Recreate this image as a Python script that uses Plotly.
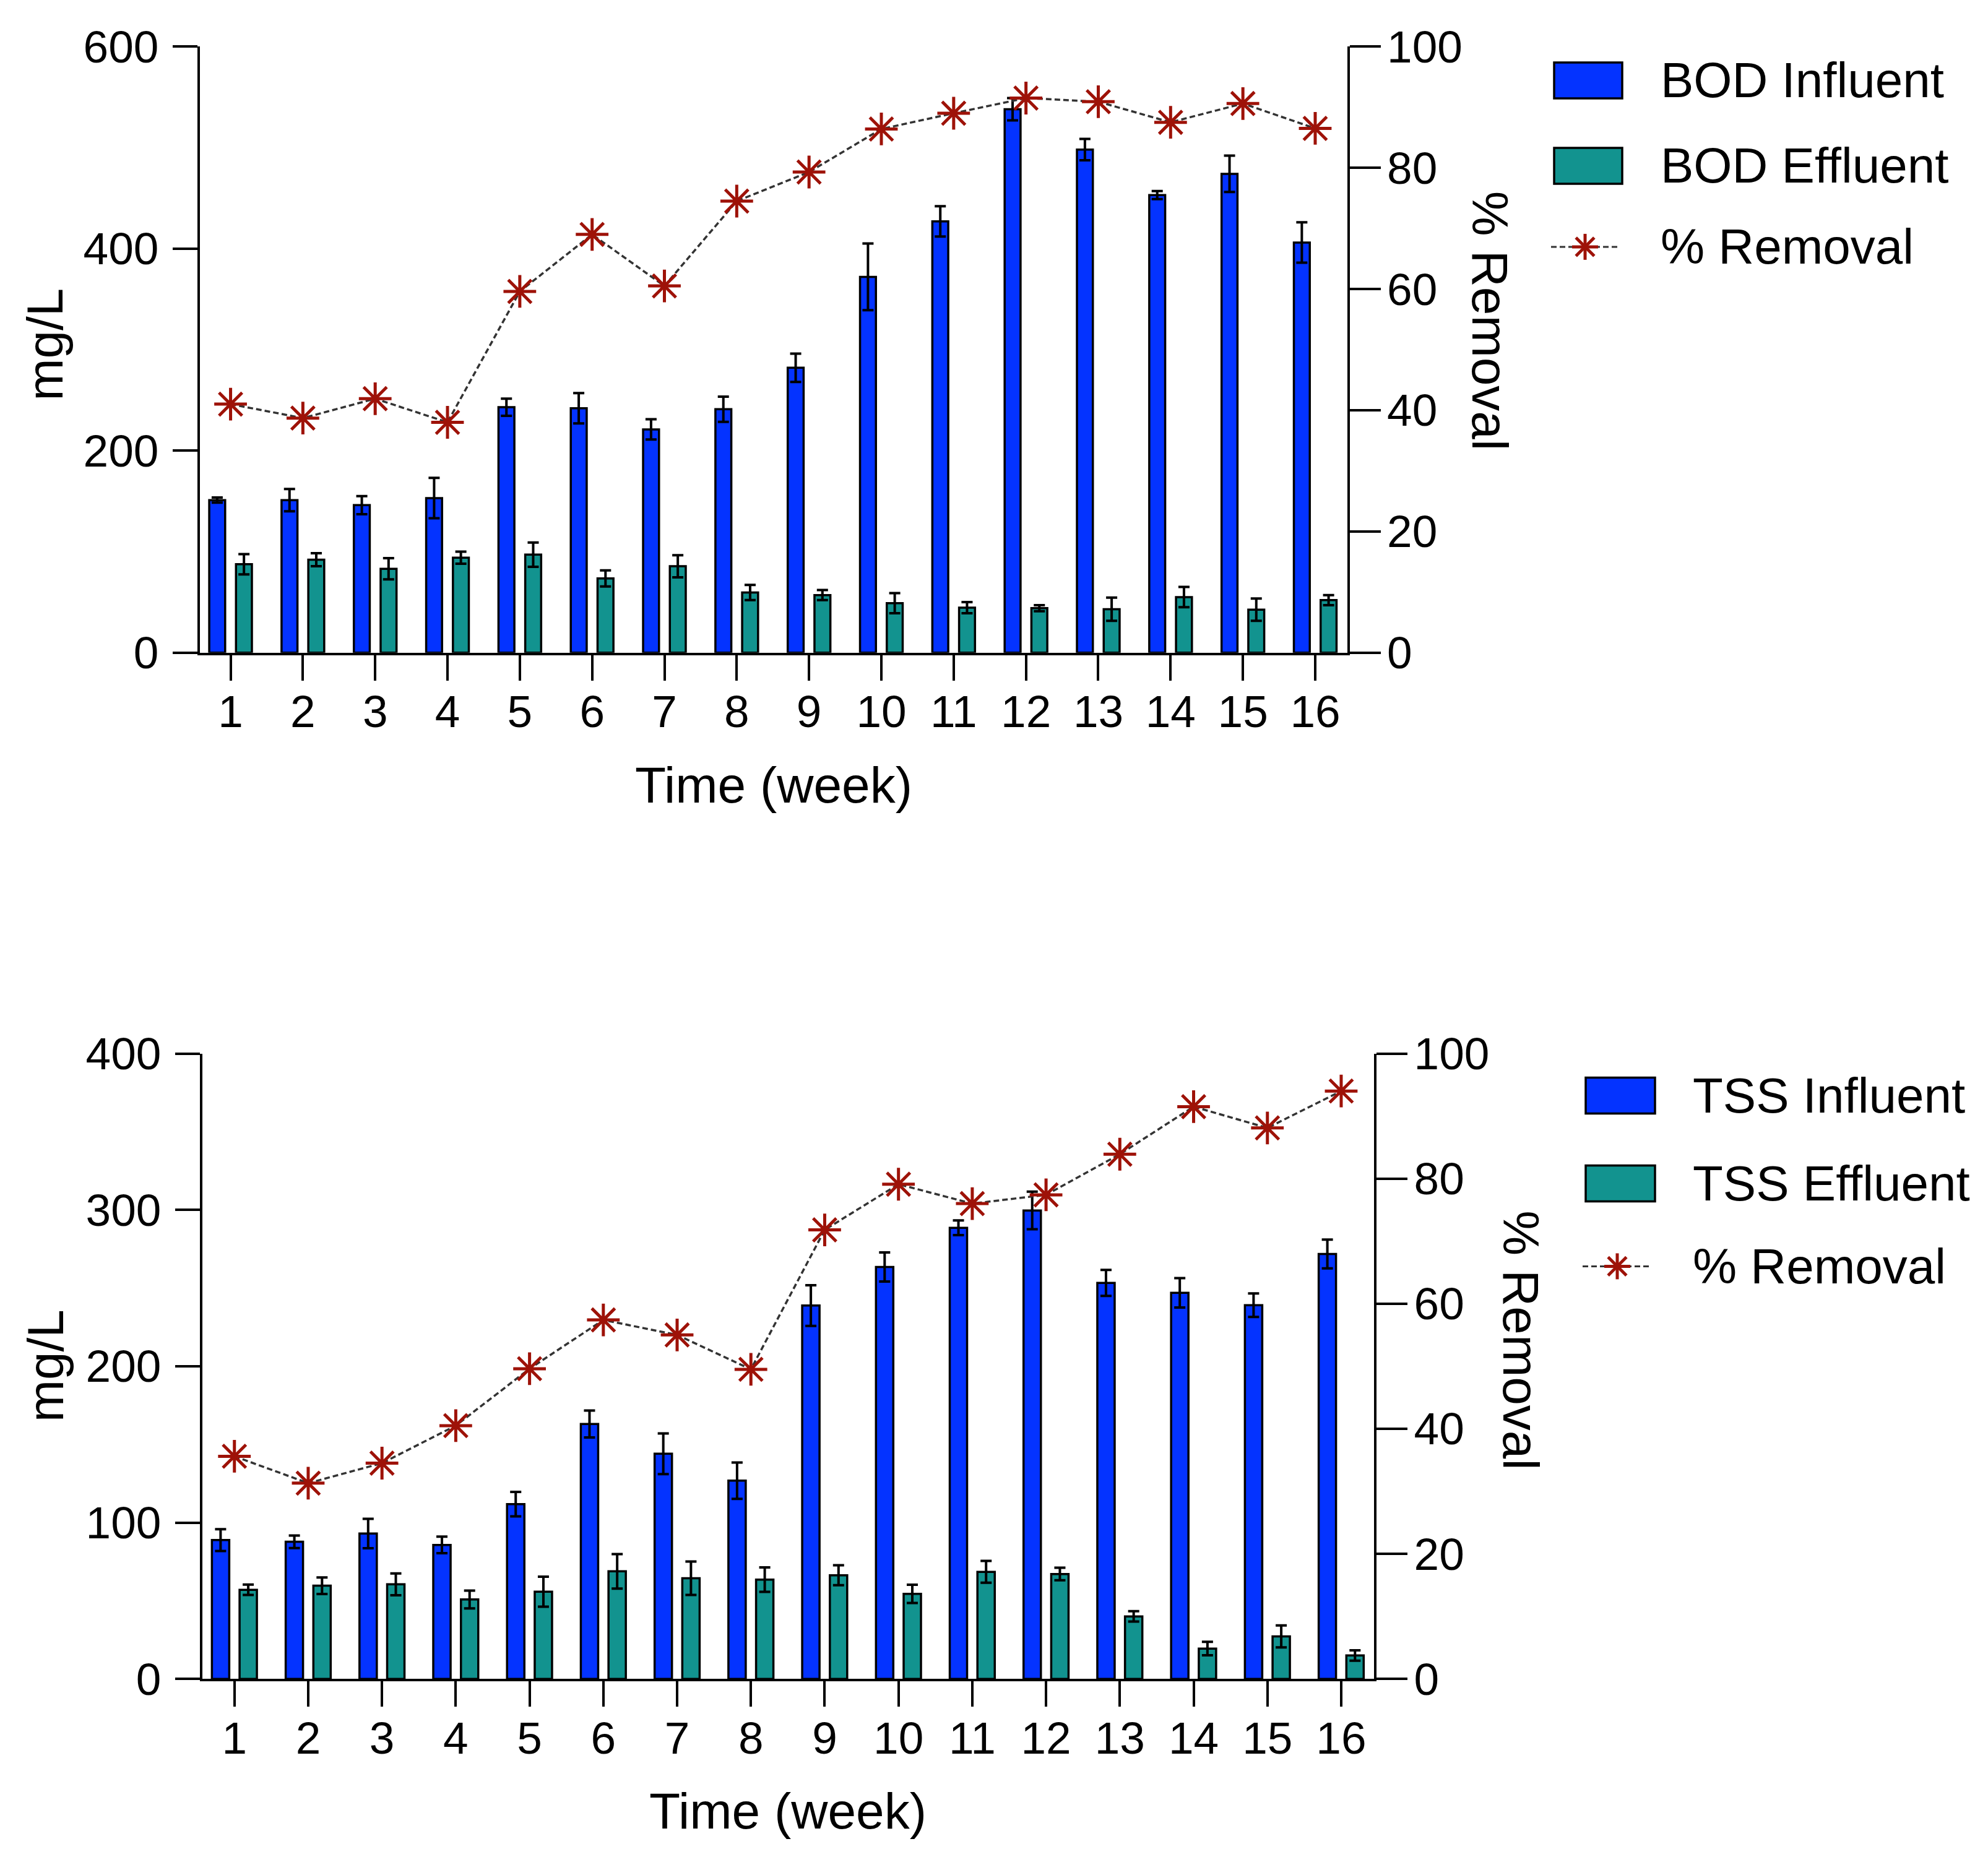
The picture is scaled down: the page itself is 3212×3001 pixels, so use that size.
import plotly.graph_objects as go

W, H = 3212, 3001

weeks = list(range(1, 17))
week_labels = [str(w) for w in weeks]

bod_influent = [151, 151, 146, 153, 243, 242, 221, 241, 282, 372, 427, 538, 498, 453, 474, 406]
bod_influent_err = [2.5, 11, 9, 20, 8.5, 15, 10, 12.5, 14, 33, 15, 11, 10.5, 4, 18, 20]
bod_effluent = [87.5, 92, 83, 94, 97, 73.5, 85.5, 59.5, 57, 49, 44.5, 44, 43, 55, 42.5, 52]
bod_effluent_err = [10, 6.5, 10.5, 6, 12, 8, 11, 7.5, 5, 10, 5.5, 3, 11.5, 10, 11, 5]
bod_removal = [41.0, 38.7, 41.9, 38.0, 59.6, 69.0, 60.5, 74.5, 79.3, 86.4, 89.0, 91.5, 90.9, 87.5, 90.6, 86.5]

tss_influent = [88.8, 87.7, 93, 85.7, 111.8, 163, 144, 126.8, 238.8, 263.5, 288.5, 299.6, 253.3, 246.9, 239, 271.8]
tss_influent_err = [7, 4, 9.4, 5.3, 7.8, 8.6, 13, 11.6, 13, 9.3, 4.7, 12, 8.3, 9.4, 7.5, 9.2]
tss_effluent = [57, 59.6, 60.5, 50.8, 55.8, 68.8, 64.4, 63.5, 66.3, 54.4, 68.5, 67.1, 40, 19.4, 27.2, 15]
tss_effluent_err = [3.3, 5.3, 7, 5.7, 9.6, 11, 10.7, 7.8, 6.4, 5.8, 7, 4, 3.3, 4.3, 7, 3.3]
tss_removal = [35.6, 31.3, 34.5, 40.5, 49.6, 57.4, 55.0, 49.5, 71.8, 79.1, 76.0, 77.4, 83.9, 91.5, 88.1, 94.0]

BLUE = "#0433FF"
TEAL = "#12938F"
RED = "#9E1208"
LINEC = "#333333"
FONT = "Liberation Sans, Arial, Helvetica, sans-serif"

# the photographed page shows the figure shifted/compressed slightly; map
# target picture positions (in reference pixels) to figure pixels
X_SHIFT = 8
Y_TOP = 45
Y_SCALE = 0.9733


def px(x):
    return (x - X_SHIFT) / W


def py(y):
    return 1 - ((y - Y_TOP) / Y_SCALE) / H


def py_raw(yspec):
    return 1 - yspec / H


fig = go.Figure()


def add_panel(xa, ya, ya2, inf, inf_err, eff, eff_err, rem, inf_name, eff_name, bw, off):
    fig.add_trace(go.Bar(
        x=weeks, y=inf, name=inf_name, xaxis=xa, yaxis=ya,
        width=bw, offset=-off - bw,
        marker=dict(color=BLUE, line=dict(color="black", width=3.5)),
        error_y=dict(type="data", array=inf_err, visible=True, color="black", thickness=4, width=9),
        showlegend=False,
    ))
    fig.add_trace(go.Bar(
        x=weeks, y=eff, name=eff_name, xaxis=xa, yaxis=ya,
        width=bw, offset=off,
        marker=dict(color=TEAL, line=dict(color="black", width=3.5)),
        error_y=dict(type="data", array=eff_err, visible=True, color="black", thickness=4, width=9),
        showlegend=False,
    ))
    fig.add_trace(go.Scatter(
        x=weeks, y=rem, name="% Removal", xaxis=xa, yaxis=ya2,
        mode="lines+markers",
        line=dict(color=LINEC, width=3.5, dash="9px,5px"),
        marker=dict(symbol="asterisk-open", size=44, color=RED, line=dict(color=RED, width=5)),
        showlegend=False,
    ))


add_panel("x", "y", "y2", bod_influent, bod_influent_err, bod_effluent, bod_effluent_err,
          bod_removal, "BOD Influent", "BOD Effluent", 0.22, 0.075)
add_panel("x2", "y3", "y4", tss_influent, tss_influent_err, tss_effluent, tss_effluent_err,
          tss_removal, "TSS Influent", "TSS Effluent", 0.235, 0.07)

tickfont = dict(family=FONT, size=73, color="black")
axcommon = dict(showline=True, linecolor="black", linewidth=4, ticks="outside",
                tickcolor="black", tickwidth=4, showgrid=False, zeroline=False,
                tickfont=tickfont)

top_x = [px(323), px(2176.5)]
top_y = [py(1052), py_raw(28)]
bot_x = [px(327), px(2220)]
bot_y = [py(2711), py(1700)]

# x ranges: top plot starts at the 600-tick compromise, range calc unaffected
fig.update_layout(
    width=W, height=H,
    margin=dict(l=0, r=0, t=0, b=0),
    paper_bgcolor="white", plot_bgcolor="white",
    barmode="overlay",
    font=dict(family=FONT, color="black"),
    xaxis=dict(domain=top_x, anchor="y", range=[0.576, 16.441], tickmode="array",
               tickvals=weeks, ticktext=week_labels, ticklen=41, ticklabelstandoff=-12, **axcommon),
    yaxis=dict(domain=top_y, anchor="x", range=[0, 600], tickvals=[0, 200, 400, 600],
               ticklen=40, ticklabelstandoff=8, **axcommon),
    yaxis2=dict(overlaying="y", anchor="x", side="right", range=[0, 100],
                tickvals=[0, 20, 40, 60, 80, 100], ticklen=50, ticklabelstandoff=-4, **axcommon),
    xaxis2=dict(domain=bot_x, anchor="y3", range=[0.566, 16.445], tickmode="array",
                tickvals=weeks, ticktext=week_labels, ticklen=41, ticklabelstandoff=-12, **axcommon),
    yaxis3=dict(domain=bot_y, anchor="x2", range=[0, 400], tickvals=[0, 100, 200, 300, 400],
                ticklen=40, ticklabelstandoff=8, **axcommon),
    yaxis4=dict(overlaying="y3", anchor="x2", side="right", range=[0, 100],
                tickvals=[0, 20, 40, 60, 80, 100], ticklen=50, ticklabelstandoff=-4, **axcommon),
)

titlefont = dict(family=FONT, size=82, color="black")
ann = []


def title(text, x, y, angle=0):
    ann.append(dict(text=text, x=px(x), y=py(y), xref="paper", yref="paper",
                    xanchor="center", yanchor="middle", showarrow=False,
                    textangle=angle, font=titlefont))


title("Time (week)", 1250, 1266)
title("Time (week)", 1273, 2924)
title("mg/L", 73, 554, -90)
title("mg/L", 73, 2205, -90)
title("% Removal", 2407, 515, 90)
title("% Removal", 2458, 2163, 90)

legfont = dict(family=FONT, size=80, color="black")
shapes = []


def legend_block(sw_x0, sw_x1, text_x, rows, names):
    for (yc, kind), name in zip(rows, names):
        if kind in ("blue", "teal"):
            shapes.append(dict(type="rect", xref="paper", yref="paper",
                               x0=px(sw_x0), x1=px(sw_x1), y0=py(yc - 29), y1=py(yc + 29),
                               fillcolor=BLUE if kind == "blue" else TEAL,
                               line=dict(color="black", width=3.5)))
        else:
            shapes.append(dict(type="line", xref="paper", yref="paper",
                               x0=px(sw_x0 - 5), x1=px(sw_x1 - 5), y0=py(yc), y1=py(yc),
                               line=dict(color=LINEC, width=3, dash="9px,5px")))
            cx = (sw_x0 + sw_x1) / 2 - 5
            r = 21
            d = r * 0.7071
            for (dx, dy) in [(r, 0), (0, r), (d, d), (d, -d)]:
                shapes.append(dict(type="line", xref="paper", yref="paper",
                                   x0=px(cx - dx), x1=px(cx + dx), y0=py(yc - dy), y1=py(yc + dy),
                                   line=dict(color=RED, width=5)))
        ann.append(dict(text=name, x=px(text_x), y=py(yc), xref="paper", yref="paper",
                        xanchor="left", yanchor="middle", showarrow=False, font=legfont))


legend_block(2511, 2621, 2681, [(127, "blue"), (265, "teal"), (396, "line")],
             ["BOD Influent", "BOD Effluent", "% Removal"])
legend_block(2562, 2674, 2733, [(1768, "blue"), (1910, "teal"), (2044, "line")],
             ["TSS Influent", "TSS Effluent", "% Removal"])

fig.update_layout(annotations=ann, shapes=shapes)

fig.write_html("out.html")
